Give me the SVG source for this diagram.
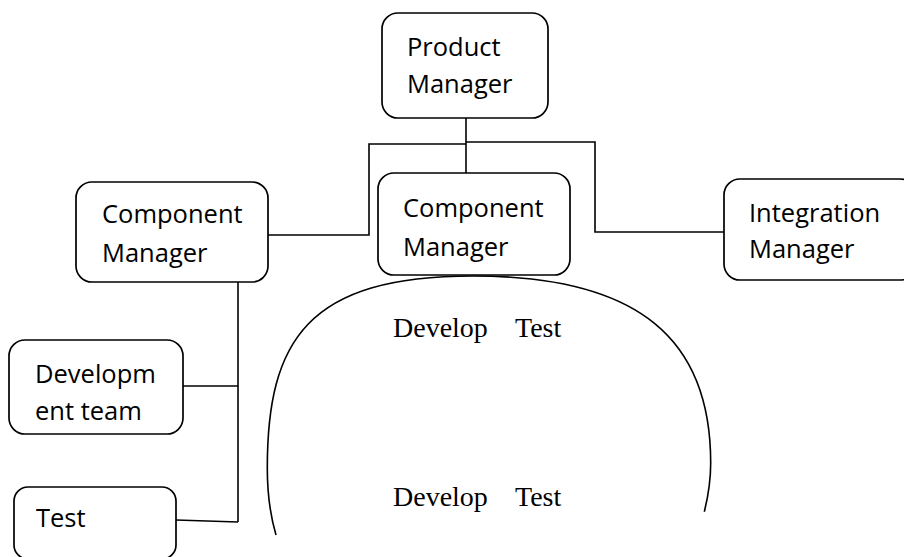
<svg xmlns="http://www.w3.org/2000/svg" width="904" height="557" viewBox="0 0 904 557">
  <style>
    .box { fill: #ffffff; stroke: #000000; stroke-width: 1.7; }
    .wire { fill: none; stroke: #000000; stroke-width: 1.6; }
    .lbl { font-family: "Open Sans", "Noto Sans", sans-serif; font-size: 25.5px; fill: #000000; }
    .cyc { font-family: "Liberation Serif", "Times New Roman", serif; font-size: 28px; fill: #000000; }
  </style>
  <rect width="904" height="557" fill="#ffffff"/>

  <!-- connectors -->
  <g id="connectors">
    <path class="wire" d="M466,118 V173"/>
    <path class="wire" d="M466,144 H369 V235 H268"/>
    <path class="wire" d="M466,142 H595 V232 H724"/>
    <path class="wire" d="M238,282 V522"/>
    <path class="wire" d="M183,386 H238"/>
    <path class="wire" d="M176,520 L238,522"/>
  </g>

  <!-- develop / test cycle arc -->
  <g id="cycle">
    <path class="wire" d="M276,535 C271,518 267.3,495 267.3,468 C267.3,340 308,276 473,276 C640,276 710.7,340 710.7,463 C710.7,480 708,497 704.3,511.7"/>
    <text class="cyc" x="393" y="337">Develop<tspan x="515">Test</tspan></text>
    <text class="cyc" x="393" y="506">Develop<tspan x="515">Test</tspan></text>
  </g>

  <g id="product-manager">
    <rect class="box" x="382" y="13" width="166" height="105" rx="16"/>
    <text class="lbl" x="407" y="56">Product</text>
    <text class="lbl" x="407" y="93">Manager</text>
  </g>

  <g id="component-manager-left">
    <rect class="box" x="76" y="182" width="192" height="100" rx="16"/>
    <text class="lbl" x="102" y="223">Component</text>
    <text class="lbl" x="102" y="262">Manager</text>
  </g>

  <g id="component-manager-center">
    <rect class="box" x="378" y="173" width="192" height="102" rx="16"/>
    <text class="lbl" x="403" y="217">Component</text>
    <text class="lbl" x="403" y="256">Manager</text>
  </g>

  <g id="integration-manager">
    <rect class="box" x="724" y="179" width="192" height="101" rx="16"/>
    <text class="lbl" x="749" y="222">Integration</text>
    <text class="lbl" x="749" y="258">Manager</text>
  </g>

  <g id="development-team">
    <rect class="box" x="9" y="340" width="174" height="94" rx="16"/>
    <text class="lbl" x="35" y="383">Developm</text>
    <text class="lbl" x="35" y="420">ent team</text>
  </g>

  <g id="test-team">
    <rect class="box" x="14" y="487" width="162" height="72" rx="14"/>
    <text class="lbl" x="36" y="527">Test</text>
  </g>
</svg>
